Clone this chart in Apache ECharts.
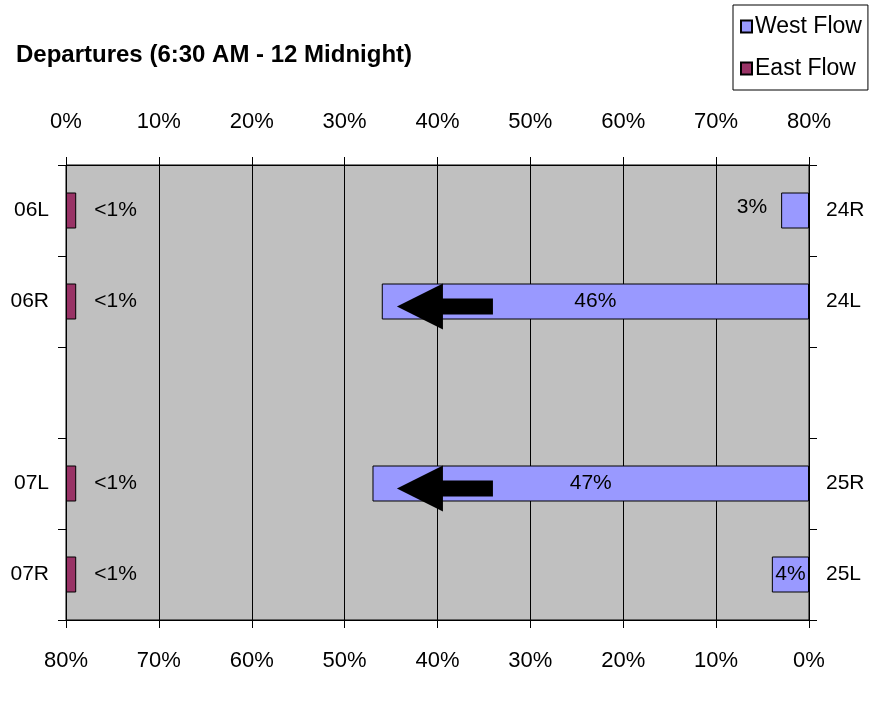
<!DOCTYPE html>
<html>
<head>
<meta charset="utf-8">
<script src="https://cdn.jsdelivr.net/npm/echarts@6/dist/echarts.min.js"></script>
<style>
  html, body { margin: 0; padding: 0; background: #fff; }
  #chart { width: 886px; height: 718px; }
</style>
</head>
<body>
<div id="chart"></div>
<script>
// runway names, left side (east flow) and right side (west flow)
const eastRunways = ['06L', '06R', '', '07L', '07R']
const westRunways = ['24R', '24L', '', '25R', '25L']

// percent of departures
const eastValues = [1.1, 1.1, null, 1.1, 1.1]
const eastLabels = ['<1%', '<1%', '', '<1%', '<1%']
const westValues = [3, 46, null, 47, 4]

// arrows drawn over the two busy runways (value on west axis, row index)
const arrowRows = [1, 3]
const arrowAt = 39.2

const font = "'Liberation Sans', Arial, sans-serif"

const chart = echarts.init(document.getElementById('chart'))

const catAxis = (names, pos) => ({
  type: 'category',
  data: names,
  inverse: true,
  position: pos,
  axisLine: { show: true, lineStyle: { color: '#000', width: 1 } },
  axisTick: { show: true, length: 8, lineStyle: { color: '#000' } },
  axisLabel: { color: '#000', fontFamily: font, fontSize: 21, margin: 17 },
  splitLine: { show: false }
})

const option = {
  animation: false,
  backgroundColor: '#fff',
  title: {
    text: 'Departures (6:30 AM - 12 Midnight)',
    left: 11,
    top: 38,
    textStyle: { fontFamily: font, fontWeight: 'bold', fontSize: 24, color: '#000' }
  },
  legend: {
    data: ['West Flow', 'East Flow'],
    orient: 'vertical',
    left: 733,
    top: 5,
    padding: [10, 6, 10, 7],
    itemGap: 19,
    itemWidth: 11,
    itemHeight: 12,
    icon: 'rect',
    borderColor: '#000',
    borderWidth: 1,
    backgroundColor: '#fff',
    textStyle: { fontFamily: font, fontSize: 23, color: '#000', padding: [0, 0, 0, -2] }
  },
  grid: {
    left: 66,
    right: 77,
    top: 165,
    bottom: 98,
    show: true,
    backgroundColor: '#c0c0c0',
    borderColor: '#000',
    borderWidth: 1
  },
  xAxis: [
    {
      type: 'value',
      position: 'top',
      min: 0,
      max: 80,
      interval: 10,
      axisLine: { show: true, lineStyle: { color: '#000' } },
      axisTick: { show: true, length: 8, lineStyle: { color: '#000' } },
      axisLabel: { color: '#000', fontFamily: font, fontSize: 22, margin: 32, formatter: '{value}%' },
      splitLine: { show: true, lineStyle: { color: '#000', width: 1 } }
    },
    {
      type: 'value',
      position: 'bottom',
      inverse: true,
      min: 0,
      max: 80,
      interval: 10,
      axisLine: { show: true, lineStyle: { color: '#000' } },
      axisTick: { show: true, length: 8, lineStyle: { color: '#000' } },
      axisLabel: { color: '#000', fontFamily: font, fontSize: 22, margin: 30, formatter: '{value}%' },
      splitLine: { show: false }
    }
  ],
  yAxis: [catAxis(eastRunways, 'left'), catAxis(westRunways, 'right')],
  series: [
    {
      name: 'West Flow',
      type: 'bar',
      xAxisIndex: 1,
      yAxisIndex: 1,
      barWidth: 36,
      data: westValues.map((v, i) => i === 0 ? { value: v, label: { position: 'left', distance: 14, offset: [0, -3] } } : v),
      itemStyle: { color: '#9999ff', borderColor: '#000', borderWidth: 1 },
      label: {
        show: true,
        position: 'inside',
        formatter: p => p.value == null ? '' : p.value + '%',
        fontFamily: font,
        fontSize: 21,
        color: '#000'
      },
      markPoint: {
        symbol: 'path://M0,23 L46,0 L46,15 L96,15 L96,31 L46,31 L46,46 Z',
        symbolSize: [96, 46],
        symbolOffset: [0, 5],
        itemStyle: { color: '#000' },
        label: { show: false },
        data: arrowRows.map(r => ({ coord: [arrowAt, r] }))
      }
    },
    {
      name: 'East Flow',
      type: 'bar',
      xAxisIndex: 0,
      yAxisIndex: 0,
      barWidth: 36,
      data: eastValues,
      itemStyle: { color: '#993366', borderColor: '#000', borderWidth: 1 },
      label: {
        show: true,
        position: 'right',
        distance: 18,
        formatter: p => eastLabels[p.dataIndex],
        fontFamily: font,
        fontSize: 21,
        color: '#000'
      }
    }
  ]
}

chart.setOption(option)
</script>
</body>
</html>
